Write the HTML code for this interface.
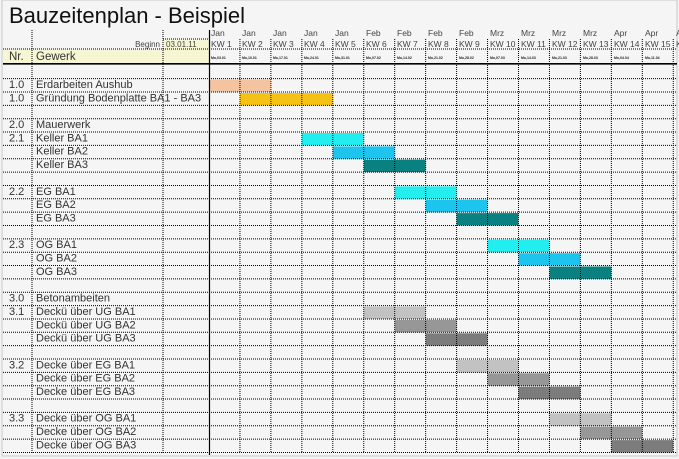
<!DOCTYPE html>
<html><head><meta charset="utf-8"><style>
html,body{margin:0;padding:0;background:#f3f3f3;}
svg{display:block;font-family:"Liberation Sans",sans-serif;}
</style></head><body>
<svg width="679" height="459" xmlns="http://www.w3.org/2000/svg">
<rect x="0" y="0" width="679" height="459" fill="#f3f3f3"/>
<rect x="2" y="0" width="675" height="456" fill="#f5f5f5" stroke="#c8c8c8" stroke-width="1"/>
<rect x="3" y="49" width="206" height="14" fill="#f6f6d2"/>
<rect x="163" y="39" width="46" height="10" fill="#f6f6d2"/>
<text x="9" y="23" font-size="22" fill="#111">Bauzeitenplan - Beispiel</text>
<g font-size="8" fill="#444">
<text x="160" y="47" text-anchor="end">Beginn</text><text x="166" y="47">03.01.11</text>
</g>
<g font-size="11.5" fill="#333"><text x="9" y="60">Nr.</text><text x="36" y="60">Gewerk</text></g>
<g font-size="8.5" fill="#444">
<text x="211" y="36">Jan</text><text x="242" y="36">Jan</text><text x="273" y="36">Jan</text><text x="304" y="36">Jan</text><text x="335" y="36">Jan</text>
<text x="366" y="36">Feb</text><text x="397" y="36">Feb</text><text x="428" y="36">Feb</text><text x="459" y="36">Feb</text>
<text x="490" y="36">Mrz</text><text x="521" y="36">Mrz</text><text x="552" y="36">Mrz</text><text x="583" y="36">Mrz</text>
<text x="614" y="36">Apr</text><text x="645" y="36">Apr</text><text x="676" y="36">A</text>
<text x="211" y="47">KW 1</text><text x="242" y="47">KW 2</text><text x="273" y="47">KW 3</text><text x="304" y="47">KW 4</text><text x="335" y="47">KW 5</text>
<text x="366" y="47">KW 6</text><text x="397" y="47">KW 7</text><text x="428" y="47">KW 8</text><text x="459" y="47">KW 9</text>
<text x="490" y="47">KW 10</text><text x="521" y="47">KW 11</text><text x="552" y="47">KW 12</text><text x="583" y="47">KW 13</text>
<text x="614" y="47">KW 14</text><text x="645" y="47">KW 15</text><text x="676" y="47">K</text>
</g>
<g font-size="3.5" font-weight="bold" fill="#222">
<text x="211" y="59">Mo,03.01</text><text x="242" y="59">Mo,10.01</text><text x="273" y="59">Mo,17.01</text><text x="304" y="59">Mo,24.01</text><text x="335" y="59">Mo,31.01</text>
<text x="366" y="59">Mo,07.02</text><text x="397" y="59">Mo,14.02</text><text x="428" y="59">Mo,21.02</text><text x="459" y="59">Mo,28.02</text>
<text x="490" y="59">Mo,07.03</text><text x="521" y="59">Mo,14.03</text><text x="552" y="59">Mo,21.03</text><text x="583" y="59">Mo,28.03</text>
<text x="614" y="59">Mo,04.04</text><text x="645" y="59">Mo,11.04</text>
</g>
<g>
<rect x="209" y="79.6" width="61.9" height="12.4" fill="#f4c3a0"/>
<rect x="239.95" y="93" width="92.85" height="12.4" fill="#f3c214"/>
<rect x="301.85" y="133" width="61.9" height="12.4" fill="#22eef0"/>
<rect x="332.8" y="146.4" width="61.9" height="12.4" fill="#1cc4ee"/>
<rect x="363.75" y="159.7" width="61.9" height="12.4" fill="#0a8080"/>
<rect x="394.7" y="186.4" width="61.9" height="12.4" fill="#22eef0"/>
<rect x="425.65" y="199.8" width="61.9" height="12.4" fill="#1cc4ee"/>
<rect x="456.6" y="213.1" width="61.9" height="12.4" fill="#0a8080"/>
<rect x="487.55" y="239.8" width="61.9" height="12.4" fill="#22eef0"/>
<rect x="518.5" y="253.2" width="61.9" height="12.4" fill="#1cc4ee"/>
<rect x="549.45" y="266.5" width="61.9" height="12.4" fill="#0a8080"/>
<rect x="363.75" y="306.6" width="61.9" height="12.4" fill="#c2c2c2"/>
<rect x="394.7" y="319.9" width="61.9" height="12.4" fill="#979797"/>
<rect x="425.65" y="333.3" width="61.9" height="12.4" fill="#7c7c7c"/>
<rect x="456.6" y="360" width="61.9" height="12.4" fill="#c2c2c2"/>
<rect x="487.55" y="373.3" width="61.9" height="12.4" fill="#979797"/>
<rect x="518.5" y="386.7" width="61.9" height="12.4" fill="#7c7c7c"/>
<rect x="549.45" y="413.4" width="61.9" height="12.4" fill="#c2c2c2"/>
<rect x="580.4" y="426.7" width="61.9" height="12.4" fill="#979797"/>
<rect x="611.35" y="440.1" width="61.9" height="12.4" fill="#7c7c7c"/>
</g>
<g stroke="#000" stroke-width="1" stroke-dasharray="1,1" fill="none">
<path d="M32 30V453M163 30V453M239.95 39V453M270.9 39V453M301.85 39V453M332.8 39V453M363.75 39V453M394.7 39V453M425.65 39V453M456.6 39V453M487.55 39V453M518.5 39V453M549.45 39V453M580.4 39V453M611.35 39V453M642.3 39V453M673.25 39V453"/>
<path d="M163 39H209M3 49H677M3 78.65H677M3 92H677M3 105.35H677M3 118.7H677M3 132.05H677M3 145.4H677M3 158.75H677M3 172.1H677M3 185.45H677M3 198.8H677M3 212.15H677M3 225.5H677M3 238.85H677M3 252.2H677M3 265.55H677M3 278.9H677M3 292.25H677M3 305.6H677M3 318.95H677M3 332.3H677M3 345.65H677M3 359H677M3 372.35H677M3 385.7H677M3 399.05H677M3 412.4H677M3 425.75H677M3 439.1H677M3 452.45H677"/>
</g>
<line x1="209.5" y1="30" x2="209.5" y2="455" stroke="#000" stroke-width="1.2"/>
<line x1="3" y1="63.8" x2="677" y2="63.8" stroke="#000" stroke-width="1.6"/>
<g font-size="11" fill="#333">
<text x="9" y="88">1.0</text><text x="36" y="88">Erdarbeiten Aushub</text>
<text x="9" y="101.3">1.0</text><text x="36" y="101.3">Gründung Bodenplatte BA1 - BA3</text>
<text x="9" y="128">2.0</text><text x="36" y="128">Mauerwerk</text>
<text x="9" y="141.4">2.1</text><text x="36" y="141.4">Keller BA1</text>
<text x="36" y="154.7">Keller BA2</text>
<text x="36" y="168">Keller BA3</text>
<text x="9" y="194.8">2.2</text><text x="36" y="194.8">EG BA1</text>
<text x="36" y="208.1">EG BA2</text>
<text x="36" y="221.5">EG BA3</text>
<text x="9" y="248.2">2.3</text><text x="36" y="248.2">OG BA1</text>
<text x="36" y="261.5">OG BA2</text>
<text x="36" y="274.9">OG BA3</text>
<text x="9" y="301.6">3.0</text><text x="36" y="301.6">Betonambeiten</text>
<text x="9" y="314.9">3.1</text><text x="36" y="314.9">Deckü über UG BA1</text>
<text x="36" y="328.3">Deckü über UG BA2</text>
<text x="36" y="341.6">Deckü über UG BA3</text>
<text x="9" y="368.3">3.2</text><text x="36" y="368.3">Decke über EG BA1</text>
<text x="36" y="381.7">Decke über EG BA2</text>
<text x="36" y="395">Decke über EG BA3</text>
<text x="9" y="421.7">3.3</text><text x="36" y="421.7">Decke über OG BA1</text>
<text x="36" y="435.1">Decke über OG BA2</text>
<text x="36" y="448.4">Decke über OG BA3</text>
</g>
</svg>
</body></html>
